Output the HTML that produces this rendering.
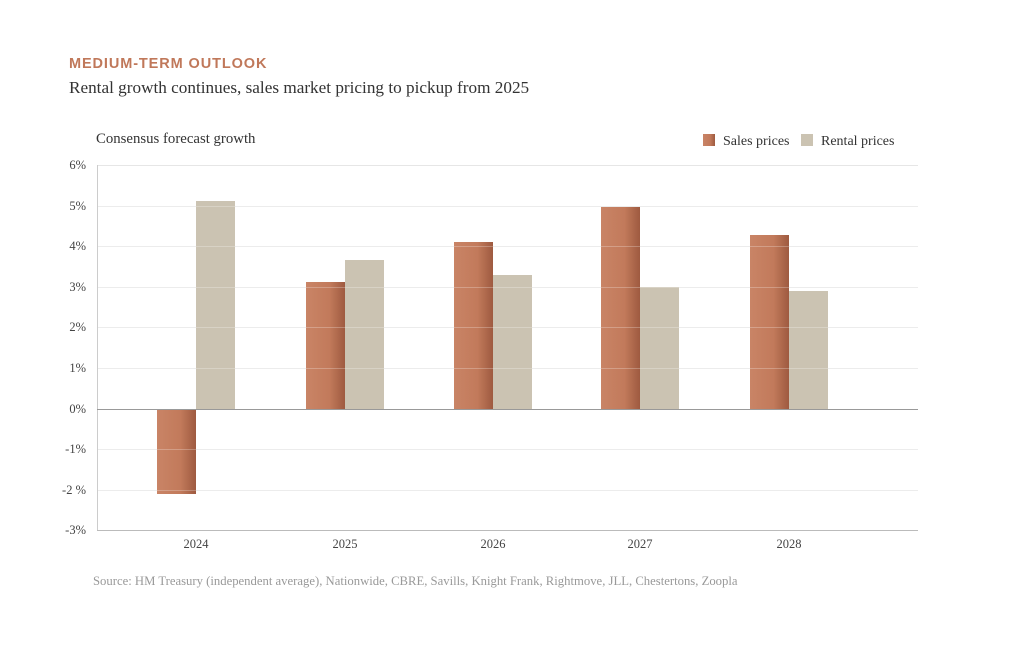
<!DOCTYPE html>
<html><head><meta charset="utf-8"><style>
body{margin:0;background:#fff;width:1024px;height:644px;overflow:hidden}
</style></head><body>
<svg width="1024" height="644" xmlns="http://www.w3.org/2000/svg">
<defs>
<linearGradient id="s" x1="0" x2="1" y1="0" y2="0">
<stop offset="0" stop-color="#c98466"/><stop offset="0.6" stop-color="#c27a5b"/><stop offset="1" stop-color="#9e5a40"/>
</linearGradient>
</defs>
<text x="69" y="68" font-family="Liberation Sans, sans-serif" font-weight="bold" font-size="14.5" fill="#c0785a" letter-spacing="0.9">MEDIUM-TERM OUTLOOK</text>
<text x="69" y="93" font-family="Liberation Serif, serif" font-size="17.2" fill="#333">Rental growth continues, sales market pricing to pickup from 2025</text>
<text x="96" y="143" font-family="Liberation Serif, serif" font-size="14.8" fill="#333">Consensus forecast growth</text>
<rect x="703" y="134" width="12" height="12" fill="url(#s)"/>
<text x="723" y="145" font-family="Liberation Serif, serif" font-size="14" fill="#333">Sales prices</text>
<rect x="801" y="134" width="12" height="12" fill="#cbc3b2"/>
<text x="821" y="145" font-family="Liberation Serif, serif" font-size="14" fill="#333">Rental prices</text>
<g font-family="Liberation Serif, serif" font-size="12.5" fill="#444" text-anchor="end">
<text x="86" y="169">6%</text><text x="86" y="210">5%</text><text x="86" y="250">4%</text><text x="86" y="291">3%</text><text x="86" y="331">2%</text><text x="86" y="372">1%</text><text x="86" y="413">0%</text><text x="86" y="453">-1%</text><text x="86" y="494">-2 %</text><text x="86" y="534">-3%</text>
</g>
<g stroke="#e6e6e6" stroke-width="1">
<line x1="97" x2="918" y1="165.5" y2="165.5"/><line x1="97" x2="918" y1="206.5" y2="206.5"/><line x1="97" x2="918" y1="246.5" y2="246.5"/><line x1="97" x2="918" y1="287.5" y2="287.5"/><line x1="97" x2="918" y1="327.5" y2="327.5"/><line x1="97" x2="918" y1="368.5" y2="368.5"/><line x1="97" x2="918" y1="449.5" y2="449.5"/><line x1="97" x2="918" y1="490.5" y2="490.5"/>
</g>
<g fill="url(#s)">
<rect x="157" y="409" width="39" height="85"/>
<rect x="306" y="282" width="39" height="127"/>
<rect x="454" y="242" width="39" height="167"/>
<rect x="601" y="207" width="39" height="202"/>
<rect x="750" y="235" width="39" height="174"/>
</g>
<g fill="#cbc3b2">
<rect x="196" y="201" width="39" height="208"/>
<rect x="345" y="260" width="39" height="149"/>
<rect x="493" y="275" width="39" height="134"/>
<rect x="640" y="287" width="39" height="122"/>
<rect x="789" y="291" width="39" height="118"/>
</g>
<g stroke="#ffffff" stroke-width="1" opacity="0.25">
<line x1="97" x2="918" y1="206.5" y2="206.5"/><line x1="97" x2="918" y1="246.5" y2="246.5"/><line x1="97" x2="918" y1="287.5" y2="287.5"/><line x1="97" x2="918" y1="327.5" y2="327.5"/><line x1="97" x2="918" y1="368.5" y2="368.5"/><line x1="97" x2="918" y1="449.5" y2="449.5"/><line x1="97" x2="918" y1="490.5" y2="490.5"/>
</g>
<line x1="97.5" x2="97.5" y1="165" y2="530" stroke="#ccc"/>
<line x1="97" x2="918" y1="530.5" y2="530.5" stroke="#bbb"/>
<line x1="97" x2="918" y1="409.5" y2="409.5" stroke="#999"/>
<g font-family="Liberation Serif, serif" font-size="12.5" fill="#444" text-anchor="middle">
<text x="196" y="548">2024</text><text x="345" y="548">2025</text><text x="493" y="548">2026</text><text x="640" y="548">2027</text><text x="789" y="548">2028</text>
</g>
<text x="93" y="585" font-family="Liberation Serif, serif" font-size="12.7" fill="#999">Source: HM Treasury (independent average), Nationwide, CBRE, Savills, Knight Frank, Rightmove, JLL, Chestertons, Zoopla</text>
</svg>
</body></html>
